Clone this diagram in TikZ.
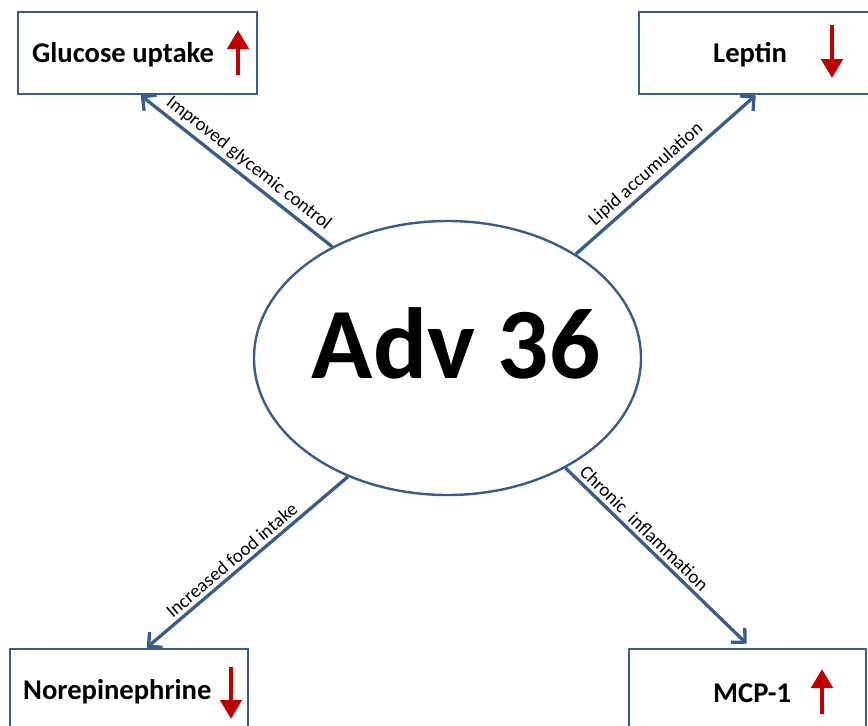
\documentclass[tikz,border=0pt]{standalone}
\usepackage{fontspec}
\setmainfont{Carlito}
\usetikzlibrary{shapes.geometric,arrows.meta}
\definecolor{edgeblue}{HTML}{385D8A}
\definecolor{arrowred}{HTML}{C00000}
\begin{document}
\begin{tikzpicture}[x=1pt,y=-1pt,
  box/.style={draw=edgeblue, line width=2.6pt, fill=white, rectangle, inner sep=0pt, minimum height=82pt},
  boxtext/.style={font=\bfseries\fontsize{28.6}{34}\selectfont, anchor=base west, inner sep=0pt},
  conn/.style={draw=edgeblue, line width=3.3pt, -{Straight Barb[length=10pt,width=20pt]}},
  elabel/.style={font=\fontsize{19}{23}\selectfont, sloped, above, inner sep=3.5pt},
  updown/.style={draw=arrowred, line width=4.8pt, -{Triangle[length=19pt,width=21pt]}}
]
\useasboundingbox (0,0) rectangle (868,726);
\fill[white] (0,0) rectangle (868,726);

% boxes
\node[box, minimum width=239pt] (G) at (137.5,53) {};
\node[box, minimum width=274pt] (L) at (776,53) {};
\node[box, minimum width=238pt] (N) at (129,690) {};
\node[box, minimum width=237pt] (M) at (747.5,690) {};

% box texts
\node[boxtext] (Gt) at (32,62) {Glucose uptake};
\node[boxtext] (Lt) at (713,62) {Leptin};
\node[boxtext] (Nt) at (23,699) {Norepinephrine};
\node[boxtext] (Mt) at (713,702) {MCP-1};

% red arrows
\draw[updown] (238,75) -- (238,30);
\draw[updown] (832,25) -- (832,78);
\draw[updown] (231,667) -- (231,719);
\draw[updown] (822,714) -- (822,669);

% central ellipse
\node[draw=edgeblue, line width=2.4pt, ellipse, minimum width=387pt, minimum height=274pt, inner sep=0pt] (E) at (447.5,358) {};
\node[font=\bfseries\fontsize{101}{120}\selectfont, anchor=base, inner sep=0pt] (A) at (456,378) {Adv 36};

% connectors
\draw[conn] (E.136.9) -- node[elabel, pos=0.48] {Improved glycemic control} ([xshift=124pt]G.south west);
\draw[conn] (E.39.3) -- node[elabel, pos=0.44] {Lipid accumulation} ([xshift=118pt]L.south west);
\draw[conn] (E.230.7) -- node[elabel, pos=0.54] {Increased food intake} ([xshift=138pt]N.north west);
\draw[conn] (E.-43.9) -- node[elabel, pos=0.39] {Chronic~ inflammation} ([xshift=119pt,yshift=4pt]M.north west);
\end{tikzpicture}
\end{document}
